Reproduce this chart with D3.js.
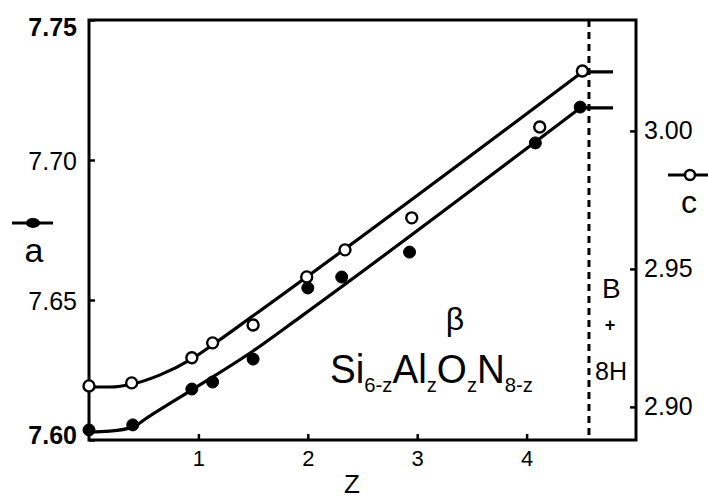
<!DOCTYPE html>
<meta charset="utf-8">
<script src="https://d3js.org/d3.v7.min.js"></script>
<style type="text/css">
body { margin: 0; background: #fff; }
svg text { font-family: "Liberation Sans", Arial, sans-serif; fill: #000; }
.linha { fill: none; stroke: #000; stroke-width: 3.2; }
.ponto-cheio { fill: #000; stroke: #000; stroke-width: 1; }
.ponto-vazio { fill: #fff; stroke: #000; stroke-width: 2.4; }
.eixo path { display: none; }
.eixo line { stroke: #000; stroke-width: 2.5; }
</style>
<body>
<div id="canvas"></div>
<script>

// composição z
var zA = [0, 0.40, 0.94, 1.13, 1.50, 2.00, 2.31, 2.93, 4.08, 4.49];
var valoresA = [7.6036, 7.6054, 7.6182, 7.6207, 7.6289, 7.6543, 7.6582, 7.6671, 7.7061, 7.7189];

var zC = [0, 0.39, 0.94, 1.13, 1.50, 1.99, 2.34, 2.95, 4.12, 4.51];
var valoresC = [2.9076, 2.9087, 2.9178, 2.9232, 2.9297, 2.9471, 2.9569, 2.9685, 3.0014, 3.0217];

// curvas ajustadas
var zAjusteA = [0, 0.19, 0.40, 0.53, 0.94, 1.50, 1.93, 4.49];
var ajusteA = [7.6029, 7.6032, 7.6046, 7.6079, 7.6179, 7.6318, 7.6439, 7.7186];
var zAjusteC = [0, 0.19, 0.40, 0.65, 0.94, 1.13, 1.50, 4.51];
var ajusteC = [2.9072, 2.9072, 2.9083, 2.9116, 2.9174, 2.9225, 2.9330, 3.0214];
var zFinal = [4.50, 4.79];

var limiteZ = 4.57;

var ticksZ = [1, 2, 3, 4];
var ticksA = [7.60, 7.65, 7.70, 7.75];
var ticksC = [2.90, 2.95, 3.00];

var width = 708;
var height = 498;

var svg = d3.select('#canvas')
    .append("svg")
    .attr('width', width)
    .attr('height', height);

var esq = 89, dir = 636, topo = 20, base = 440;

var x = d3.scaleLinear().domain([0, 5]).range([esq, dir]);
var yA = d3.scaleLinear().domain([7.60, 7.75]).range([base, topo]);
var yC = d3.scaleLinear().domain([2.888, 3.0402]).range([base, topo]);

// eixos -------------------------------------------------------------
svg.append("g")
    .attr("class", "eixo")
    .attr("transform", "translate(0," + base + ")")
    .call(d3.axisBottom(x).tickValues(ticksZ).tickSizeInner(-6).tickSizeOuter(0).tickPadding(10)
        .tickFormat(d3.format("d")))
    .selectAll("text")
    .style("font-size", "22px");

var eixoA = svg.append("g")
    .attr("class", "eixo")
    .attr("transform", "translate(" + esq + ",0)")
    .call(d3.axisLeft(yA).tickValues(ticksA).tickSizeInner(-6).tickSizeOuter(0).tickPadding(12)
        .tickFormat(d3.format(".2f")));
eixoA.selectAll("text")
    .style("font-size", "25px")
    .style("font-weight", function(d) { return (d == 7.75 || d == 7.60) ? "bold" : "normal"; })
    .attr("dy", function(d) { return d == 7.75 ? "0.6em" : (d == 7.60 ? "0.15em" : "0.38em"); });

svg.append("g")
    .attr("class", "eixo")
    .attr("transform", "translate(" + dir + ",0)")
    .call(d3.axisRight(yC).tickValues(ticksC).tickSizeInner(-6).tickSizeOuter(0).tickPadding(8)
        .tickFormat(d3.format(".2f")))
    .selectAll("text")
    .style("font-size", "25px");

// moldura
svg.append("rect")
    .attr("x", esq).attr("y", topo)
    .attr("width", dir - esq).attr("height", base - topo)
    .attr("fill", "none").attr("stroke", "#000").attr("stroke-width", 3);

// linha tracejada do limite
svg.append("line")
    .attr("x1", x(limiteZ)).attr("x2", x(limiteZ))
    .attr("y1", topo).attr("y2", base)
    .attr("stroke", "#000").attr("stroke-width", 3)
    .attr("stroke-dasharray", "7,5");

// curvas ----------------------------------------------------------------
var linhaA = d3.line()
    .x(function(d) { return x(d[0]); })
    .y(function(d) { return yA(d[1]); })
    .curve(d3.curveMonotoneX);
var linhaC = d3.line()
    .x(function(d) { return x(d[0]); })
    .y(function(d) { return yC(d[1]); })
    .curve(d3.curveMonotoneX);

svg.append("path").attr("class", "linha").attr("d", linhaA(d3.zip(zAjusteA, ajusteA)));
svg.append("path").attr("class", "linha").attr("d", linhaC(d3.zip(zAjusteC, ajusteC)));
svg.append("path").attr("class", "linha")
    .attr("d", d3.line()(zFinal.map(function(z) { return [x(z), yA(ajusteA[ajusteA.length - 1])]; })));
svg.append("path").attr("class", "linha")
    .attr("d", d3.line()(zFinal.map(function(z) { return [x(z), yC(ajusteC[ajusteC.length - 1])]; })));

// pontos ---------------------------------------------------------------
svg.selectAll(".pa")
    .data(d3.zip(zA, valoresA))
    .enter()
    .append("circle")
    .attr("class", "ponto-cheio")
    .attr("cx", function(d) { return x(d[0]); })
    .attr("cy", function(d) { return yA(d[1]); })
    .attr("r", 6);

svg.selectAll(".pc")
    .data(d3.zip(zC, valoresC))
    .enter()
    .append("circle")
    .attr("class", "ponto-vazio")
    .attr("cx", function(d) { return x(d[0]); })
    .attr("cy", function(d) { return yC(d[1]); })
    .attr("r", 5.5);

// legendas dos eixos ----------------------------------------------------
svg.append("line").attr("x1", 12).attr("x2", 53).attr("y1", 223).attr("y2", 223)
    .attr("stroke", "#000").attr("stroke-width", 3);
svg.append("ellipse").attr("cx", 33).attr("cy", 223).attr("rx", 7).attr("ry", 5).attr("fill", "#000");
svg.append("text").attr("x", 34).attr("y", 262).attr("text-anchor", "middle")
    .style("font-size", "34px").text("a");

svg.append("line").attr("x1", 668).attr("x2", 708).attr("y1", 175).attr("y2", 175)
    .attr("stroke", "#000").attr("stroke-width", 3);
svg.append("circle").attr("cx", 690).attr("cy", 175).attr("r", 5)
    .attr("fill", "#fff").attr("stroke", "#000").attr("stroke-width", 2.5);
svg.append("text").attr("x", 689).attr("y", 213).attr("text-anchor", "middle")
    .style("font-size", "32px").text("c");

svg.append("text").attr("x", 352).attr("y", 493).attr("text-anchor", "middle")
    .style("font-size", "26px").text("Z");

// anotações ----------------------------------------------------------------
svg.append("text").attr("x", 455).attr("y", 330).attr("text-anchor", "middle")
    .style("font-size", "32px").text("β");

var formula = svg.append("text")
    .attr("x", 330).attr("y", 383)
    .attr("textLength", 203).attr("lengthAdjust", "spacingAndGlyphs")
    .style("font-size", "40px");
var partes = [["Si", 0], ["6-z", 1], ["Al", 0], ["z", 1], ["O", 0], ["z", 1], ["N", 0], ["8-z", 1]];
partes.forEach(function(p, i) {
    var anterior = i > 0 ? partes[i - 1][1] : 0;
    var dy = p[1] - anterior;
    formula.append("tspan")
        .attr("dy", dy * 9)
        .style("font-size", p[1] ? "21px" : "40px")
        .text(p[0]);
});

svg.append("text").attr("x", 602).attr("y", 298).style("font-size", "28px").text("B");
svg.append("text").attr("x", 610).attr("y", 331).attr("text-anchor", "middle")
    .style("font-size", "18px").style("font-weight", "bold").text("+");
svg.append("text").attr("x", 595).attr("y", 380)
    .attr("textLength", 32).attr("lengthAdjust", "spacingAndGlyphs")
    .style("font-size", "26px").text("8H");
</script>
</body>
